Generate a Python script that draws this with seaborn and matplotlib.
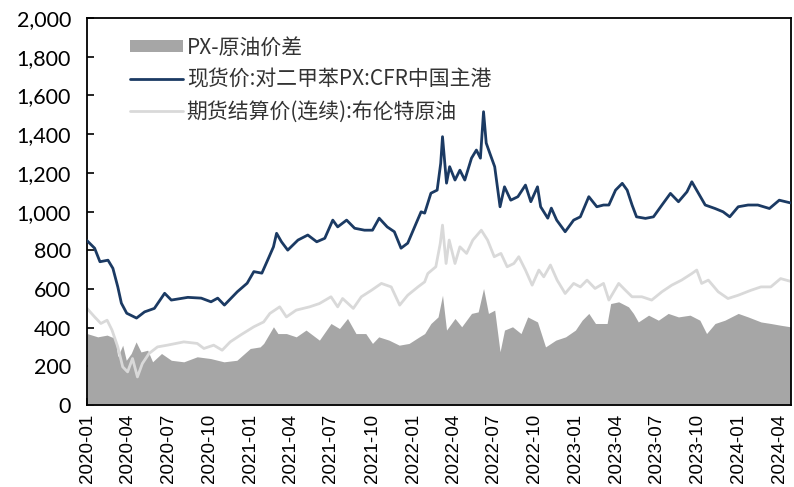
import pandas as pd
import matplotlib
matplotlib.use('Agg')
import matplotlib.pyplot as plt
import matplotlib.dates as mdates
from matplotlib.ticker import FuncFormatter, MultipleLocator
from matplotlib.patches import Patch
from matplotlib.lines import Line2D
import seaborn as sns

# PX spot price (CFR China main port)
px_dates = ['2020-01-01', '2020-01-18', '2020-01-30', '2020-02-17', '2020-02-28', '2020-03-10',
            '2020-03-18', '2020-03-30', '2020-04-21', '2020-05-09', '2020-05-31', '2020-06-23',
            '2020-07-08', '2020-08-14', '2020-09-13', '2020-10-05', '2020-10-20', '2020-11-04',
            '2020-12-03', '2020-12-25', '2021-01-09', '2021-01-27', '2021-02-11', '2021-02-22',
            '2021-03-01', '2021-03-12', '2021-03-26', '2021-04-18', '2021-05-10', '2021-05-30',
            '2021-06-17', '2021-07-05', '2021-07-16', '2021-08-05', '2021-08-23', '2021-09-14',
            '2021-10-02', '2021-10-17', '2021-11-04', '2021-11-20', '2021-12-05', '2021-12-20',
            '2022-01-08', '2022-01-19', '2022-01-27', '2022-02-10', '2022-02-24', '2022-03-04',
            '2022-03-08', '2022-03-17', '2022-03-24', '2022-04-05', '2022-04-16', '2022-04-27',
            '2022-05-12', '2022-05-23', '2022-06-01', '2022-06-08', '2022-06-14', '2022-06-22',
            '2022-07-03', '2022-07-15', '2022-07-25', '2022-08-08', '2022-08-24', '2022-09-10',
            '2022-09-22', '2022-10-07', '2022-10-14', '2022-10-30', '2022-11-07', '2022-11-19',
            '2022-12-08', '2022-12-27', '2023-01-11', '2023-01-30', '2023-02-17', '2023-03-04',
            '2023-03-16', '2023-03-31', '2023-04-15', '2023-04-26', '2023-05-07', '2023-05-17',
            '2023-06-06', '2023-06-24', '2023-07-13', '2023-08-01', '2023-08-19', '2023-09-07',
            '2023-09-18', '2023-10-03', '2023-10-18', '2023-11-09', '2023-11-27', '2023-12-12',
            '2023-12-31', '2024-01-22', '2024-02-13', '2024-03-10', '2024-04-01', '2024-04-26']
px_vals = [850, 811, 741, 749, 707, 611, 527, 475, 450, 482, 500, 578,
           543, 557, 553, 534, 553, 517, 586, 630, 690, 682, 760, 818,
           888, 844, 801, 853, 879, 844, 862, 956, 921, 956, 914, 904,
           904, 966, 921, 896, 811, 837, 940, 999, 992, 1095, 1111, 1250,
           1387, 1147, 1232, 1163, 1214, 1163, 1276, 1318, 1276, 1516, 1354, 1302,
           1232, 1025, 1128, 1059, 1077, 1137, 1051, 1128, 1025, 966, 1018, 956,
           896, 956, 973, 1077, 1025, 1034, 1034, 1111, 1146, 1111, 1034, 973,
           965, 973, 1034, 1094, 1051, 1102, 1154, 1094, 1034, 1016, 999, 973,
           1025, 1034, 1034, 1016, 1059, 1045]

# Brent continuous futures settlement (converted to per ton)
brent_dates = ['2020-01-01', '2020-01-18', '2020-02-01', '2020-02-15', '2020-02-26', '2020-03-10',
               '2020-03-21', '2020-04-01', '2020-04-12', '2020-04-23', '2020-05-04', '2020-05-19',
               '2020-06-07', '2020-06-29', '2020-08-05', '2020-09-04', '2020-09-19', '2020-10-11',
               '2020-10-30', '2020-11-17', '2020-12-10', '2021-01-09', '2021-01-31', '2021-02-14',
               '2021-03-08', '2021-03-23', '2021-04-14', '2021-05-14', '2021-06-05', '2021-07-01',
               '2021-07-16', '2021-07-27', '2021-08-20', '2021-09-07', '2021-09-30', '2021-10-22',
               '2021-11-13', '2021-12-02', '2021-12-20', '2022-01-12', '2022-01-27', '2022-02-03',
               '2022-02-21', '2022-03-03', '2022-03-08', '2022-03-16', '2022-03-23', '2022-04-05',
               '2022-04-16', '2022-05-01', '2022-05-15', '2022-06-03', '2022-06-17', '2022-07-02',
               '2022-07-17', '2022-07-31', '2022-08-15', '2022-08-26', '2022-09-10', '2022-09-25',
               '2022-10-10', '2022-10-21', '2022-11-05', '2022-11-20', '2022-12-08', '2022-12-27',
               '2023-01-11', '2023-01-26', '2023-02-13', '2023-03-04', '2023-03-16', '2023-04-07',
               '2023-04-22', '2023-05-07', '2023-05-29', '2023-06-20', '2023-07-13', '2023-08-04',
               '2023-08-26', '2023-09-18', '2023-09-29', '2023-10-10', '2023-10-25', '2023-11-16',
               '2023-12-08', '2023-12-31', '2024-01-29', '2024-02-20', '2024-03-13', '2024-04-04',
               '2024-04-26']
brent_vals = [500, 456, 422, 439, 388, 301, 198, 172, 241, 146, 215, 267,
              301, 310, 327, 319, 293, 310, 284, 327, 362, 405, 430, 474,
              508, 456, 491, 508, 525, 560, 508, 551, 500, 560, 594, 629,
              611, 517, 568, 611, 637, 680, 715, 836, 930, 732, 853, 732,
              818, 784, 853, 904, 853, 767, 784, 715, 732, 767, 698, 620,
              698, 663, 724, 646, 577, 629, 611, 646, 603, 629, 543, 629,
              594, 560, 560, 543, 586, 620, 646, 680, 698, 629, 646, 586,
              551, 568, 594, 611, 611, 654, 640]

# PX - crude spread
spread_dates = ['2020-01-01', '2020-01-25', '2020-02-15', '2020-03-04', '2020-03-10', '2020-03-21',
                '2020-03-29', '2020-04-09', '2020-04-20', '2020-05-01', '2020-05-16', '2020-05-27',
                '2020-06-16', '2020-07-08', '2020-08-05', '2020-09-04', '2020-10-04', '2020-11-03',
                '2020-12-02', '2021-01-01', '2021-01-23', '2021-01-31', '2021-02-22', '2021-03-04',
                '2021-03-23', '2021-04-14', '2021-05-06', '2021-06-05', '2021-07-01', '2021-07-20',
                '2021-08-07', '2021-08-26', '2021-09-17', '2021-10-02', '2021-10-16', '2021-11-08',
                '2021-12-01', '2021-12-23', '2022-01-15', '2022-01-27', '2022-02-10', '2022-02-26',
                '2022-03-08', '2022-03-17', '2022-04-05', '2022-04-20', '2022-05-12', '2022-05-27',
                '2022-06-08', '2022-06-19', '2022-07-03', '2022-07-15', '2022-07-25', '2022-08-12',
                '2022-08-31', '2022-09-15', '2022-10-07', '2022-10-25', '2022-11-17', '2022-12-09',
                '2022-12-31', '2023-01-15', '2023-01-30', '2023-02-14', '2023-03-12', '2023-03-20',
                '2023-04-07', '2023-04-29', '2023-05-10', '2023-05-21', '2023-06-13', '2023-07-05',
                '2023-07-27', '2023-08-19', '2023-09-14', '2023-10-06', '2023-10-21', '2023-11-09',
                '2023-12-01', '2023-12-31', '2024-01-22', '2024-02-20', '2024-03-13', '2024-04-04',
                '2024-04-26']
spread_vals = [370, 353, 362, 345, 250, 310, 232, 267, 327, 275, 284, 224,
               267, 232, 224, 250, 241, 224, 232, 293, 301, 319, 405, 370,
               370, 353, 388, 336, 422, 396, 448, 370, 370, 319, 353, 336,
               310, 319, 353, 370, 422, 456, 568, 388, 448, 405, 474, 482,
               603, 474, 491, 276, 388, 405, 370, 456, 430, 301, 336, 353,
               388, 439, 474, 422, 422, 525, 534, 508, 474, 430, 465, 439,
               474, 456, 465, 439, 370, 422, 439, 474, 456, 430, 422, 413,
               405]

px = pd.DataFrame({'date': pd.to_datetime(px_dates), 'value': px_vals})
brent = pd.DataFrame({'date': pd.to_datetime(brent_dates), 'value': brent_vals})
spread = pd.DataFrame({'date': pd.to_datetime(spread_dates), 'value': spread_vals})

sns.set_style('ticks')
plt.rcParams['font.family'] = ['Liberation Sans', 'Noto Sans CJK SC', 'DejaVu Sans']

fig = plt.figure(figsize=(7.94, 4.87), dpi=100)
ax = fig.add_axes([0.1096, 0.168, 0.887, 0.795])

ax.fill_between(spread['date'], 0, spread['value'], color='#a6a6a6', lw=0, zorder=1)
sns.lineplot(data=brent, x='date', y='value', ax=ax, color='#d9d9d9', lw=2, zorder=2)
sns.lineplot(data=px, x='date', y='value', ax=ax, color='#1b3a63', lw=2, zorder=3)

ax.set_xlim(pd.Timestamp('2020-01-01'), pd.Timestamp('2024-04-28'))
ax.set_ylim(0, 2000)
ax.yaxis.set_major_locator(MultipleLocator(200))
ax.yaxis.set_major_formatter(FuncFormatter(lambda v, p: f'{int(v):,}'))
ax.xaxis.set_major_locator(mdates.MonthLocator(bymonth=[1, 4, 7, 10]))
ax.xaxis.set_major_formatter(mdates.DateFormatter('%Y-%m'))
ax.set_xlabel('')
ax.set_ylabel('')
ax.tick_params(axis='both', direction='in', length=5, width=1.2, colors='black')
ax.tick_params(axis='x', rotation=90, pad=6, labelsize=13.5)
ax.tick_params(axis='y', pad=11.5, labelsize=15.5)
for t in ax.get_yticklabels():
    t.set_family('Lato')
for s in ax.spines.values():
    s.set_linewidth(1.3)
    s.set_color('black')

handles = [Patch(facecolor='#a6a6a6', edgecolor='none'),
           Line2D([], [], color='#1b3a63', lw=2),
           Line2D([], [], color='#d9d9d9', lw=2)]
labels = ['PX-原油价差', '现货价:对二甲苯PX:CFR中国主港', '期货结算价(连续):布伦特原油']
leg = ax.legend(handles, labels, loc='upper left', bbox_to_anchor=(0.035, 1.0), frameon=False,
                prop={'family': ['Noto Sans CJK SC', 'DejaVu Sans'], 'size': 15},
                handlelength=2.5, handleheight=0.5, labelspacing=0.48, handletextpad=0.2)
for t in leg.get_texts():
    t.set_color('#333333')

fig.savefig('out.png', dpi=100)
